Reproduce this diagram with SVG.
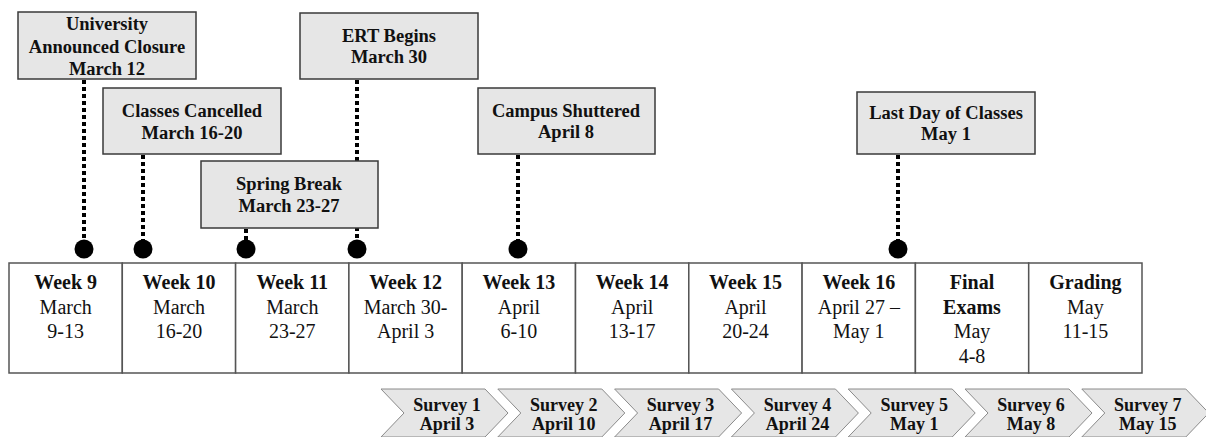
<svg xmlns="http://www.w3.org/2000/svg" width="1206" height="437" viewBox="0 0 1206 437">
<style>
.box{fill:#e6e6e6;stroke:#3a3a3a;stroke-width:1.5}
.bt{font-family:"Liberation Serif","Times New Roman",serif;font-weight:bold;font-size:18.5px;fill:#111;text-anchor:middle}
.cell{fill:#fff;stroke:#555;stroke-width:1.5}
.tb{font-family:"Liberation Serif","Times New Roman",serif;font-weight:bold;font-size:20px;fill:#111;text-anchor:middle}
.tr{font-family:"Liberation Serif","Times New Roman",serif;font-size:20px;fill:#111;text-anchor:middle}
.dot{stroke:#000;stroke-width:4;stroke-dasharray:4 3;fill:none}
.pin{fill:#000}
.chev{fill:#e6e6e6;stroke:#8a8a8a;stroke-width:1}
.ct{font-family:"Liberation Serif","Times New Roman",serif;font-weight:bold;font-size:18px;fill:#111;text-anchor:middle}
</style>
<defs>
<polygon id="chevShape" points="0,389 104,389 127,413 104,437 0,437 23,413"/>
</defs>
<rect width="1206" height="437" fill="#fff"/>

<g id="connectors">
<line class="dot" x1="84" y1="80" x2="84" y2="242"/>
<line class="dot" x1="143" y1="155" x2="143" y2="242"/>
<line class="dot" x1="246" y1="229" x2="246" y2="242"/>
<line class="dot" x1="357" y1="80" x2="357" y2="242"/>
<line class="dot" x1="518" y1="155" x2="518" y2="242"/>
<line class="dot" x1="898" y1="155" x2="898" y2="242"/>
<circle class="pin" cx="84" cy="249" r="9.5"/>
<circle class="pin" cx="143" cy="249" r="9.5"/>
<circle class="pin" cx="246" cy="249" r="9.5"/>
<circle class="pin" cx="357" cy="249" r="9.5"/>
<circle class="pin" cx="518" cy="249" r="9.5"/>
<circle class="pin" cx="898" cy="249" r="9.5"/>
</g>

<g id="event-closure">
<rect class="box" x="18" y="12" width="178" height="67"/>
<text class="bt" x="107" y="30">University</text>
<text class="bt" x="107" y="53">Announced Closure</text>
<text class="bt" x="107" y="75">March 12</text>
</g>
<g id="event-cancelled">
<rect class="box" x="103" y="88" width="178" height="66"/>
<text class="bt" x="192" y="117">Classes Cancelled</text>
<text class="bt" x="192" y="139">March 16-20</text>
</g>
<g id="event-ert">
<rect class="box" x="300" y="13" width="178" height="66"/>
<text class="bt" x="389" y="42">ERT Begins</text>
<text class="bt" x="389" y="63">March 30</text>
</g>
<g id="event-spring-break">
<rect class="box" x="201" y="161" width="177" height="67"/>
<text class="bt" x="289" y="190">Spring Break</text>
<text class="bt" x="289" y="212">March 23-27</text>
</g>
<g id="event-shuttered">
<rect class="box" x="478" y="88" width="177" height="66"/>
<text class="bt" x="566" y="117">Campus Shuttered</text>
<text class="bt" x="566" y="138">April 8</text>
</g>
<g id="event-last-day">
<rect class="box" x="857" y="92" width="178" height="62"/>
<text class="bt" x="946" y="119">Last Day of Classes</text>
<text class="bt" x="946" y="140">May 1</text>
</g>

<g id="week9"><rect class="cell" x="9" y="263" width="113.3" height="110"/>
<text class="tb" x="65.7" y="289">Week 9</text><text class="tr" x="65.7" y="313.5">March</text><text class="tr" x="65.7" y="338">9-13</text></g>
<g id="week10"><rect class="cell" x="122.3" y="263" width="113.3" height="110"/>
<text class="tb" x="179" y="289">Week 10</text><text class="tr" x="179" y="313.5">March</text><text class="tr" x="179" y="338">16-20</text></g>
<g id="week11"><rect class="cell" x="235.6" y="263" width="113.3" height="110"/>
<text class="tb" x="292.3" y="289">Week 11</text><text class="tr" x="292.3" y="313.5">March</text><text class="tr" x="292.3" y="338">23-27</text></g>
<g id="week12"><rect class="cell" x="348.9" y="263" width="113.3" height="110"/>
<text class="tb" x="405.6" y="289">Week 12</text><text class="tr" x="405.6" y="313.5">March 30-</text><text class="tr" x="405.6" y="338">April 3</text></g>
<g id="week13"><rect class="cell" x="462.2" y="263" width="113.3" height="110"/>
<text class="tb" x="518.9" y="289">Week 13</text><text class="tr" x="518.9" y="313.5">April</text><text class="tr" x="518.9" y="338">6-10</text></g>
<g id="week14"><rect class="cell" x="575.5" y="263" width="113.3" height="110"/>
<text class="tb" x="632.2" y="289">Week 14</text><text class="tr" x="632.2" y="313.5">April</text><text class="tr" x="632.2" y="338">13-17</text></g>
<g id="week15"><rect class="cell" x="688.8" y="263" width="113.3" height="110"/>
<text class="tb" x="745.5" y="289">Week 15</text><text class="tr" x="745.5" y="313.5">April</text><text class="tr" x="745.5" y="338">20-24</text></g>
<g id="week16"><rect class="cell" x="802.1" y="263" width="113.3" height="110"/>
<text class="tb" x="858.8" y="289">Week 16</text><text class="tr" x="858.8" y="313.5">April 27 –</text><text class="tr" x="858.8" y="338">May 1</text></g>
<g id="final-exams"><rect class="cell" x="915.4" y="263" width="113.3" height="110"/>
<text class="tb" x="972" y="289">Final</text><text class="tb" x="972" y="313.5">Exams</text><text class="tr" x="972" y="338">May</text><text class="tr" x="972" y="362.5">4-8</text></g>
<g id="grading"><rect class="cell" x="1028.7" y="263" width="113.3" height="110"/>
<text class="tb" x="1085.4" y="289">Grading</text><text class="tr" x="1085.4" y="313.5">May</text><text class="tr" x="1085.4" y="338">11-15</text></g>

<g id="survey1" transform="translate(381,0)"><use href="#chevShape" class="chev"/>
<text class="ct" x="66" y="411">Survey 1</text><text class="ct" x="66" y="430">April 3</text></g>
<g id="survey2" transform="translate(497.8,0)"><use href="#chevShape" class="chev"/>
<text class="ct" x="66" y="411">Survey 2</text><text class="ct" x="66" y="430">April 10</text></g>
<g id="survey3" transform="translate(614.6,0)"><use href="#chevShape" class="chev"/>
<text class="ct" x="66" y="411">Survey 3</text><text class="ct" x="66" y="430">April 17</text></g>
<g id="survey4" transform="translate(731.4,0)"><use href="#chevShape" class="chev"/>
<text class="ct" x="66" y="411">Survey 4</text><text class="ct" x="66" y="430">April 24</text></g>
<g id="survey5" transform="translate(848.2,0)"><use href="#chevShape" class="chev"/>
<text class="ct" x="66" y="411">Survey 5</text><text class="ct" x="66" y="430">May 1</text></g>
<g id="survey6" transform="translate(965,0)"><use href="#chevShape" class="chev"/>
<text class="ct" x="66" y="411">Survey 6</text><text class="ct" x="66" y="430">May 8</text></g>
<g id="survey7" transform="translate(1081.8,0)"><use href="#chevShape" class="chev"/>
<text class="ct" x="66" y="411">Survey 7</text><text class="ct" x="66" y="430">May 15</text></g>
</svg>
